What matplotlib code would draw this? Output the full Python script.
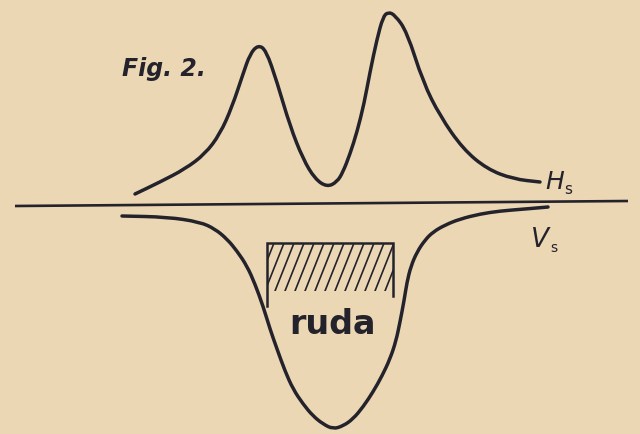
import numpy as np
import matplotlib.pyplot as plt
from matplotlib.patches import Rectangle, PathPatch
from matplotlib.path import Path

# Horizontal magnetic component Hs (x, height above the plate; y grows downward)
hs_x = [135, 160, 185, 205, 220, 232, 243, 250, 258, 266, 277, 290, 303, 315,
        327, 337, 343, 350, 357, 364, 370, 377, 383, 388, 395, 407, 423, 440,
        463, 487, 513, 540]
hs_y = [195, 183, 170, 155, 135, 108, 75, 55, 46, 51, 83, 127, 160, 180,
        188, 183, 173, 155, 133, 105, 73, 40, 18, 13, 16, 33, 83, 117,
        150, 170, 180, 183]

# Vertical component Vs
vs_x = [122, 167, 200, 215, 227, 237, 247, 255, 263, 270, 277, 285, 293, 303,
        313, 323, 333, 343, 353, 363, 373, 382, 390, 396, 400, 404, 407, 411,
        417, 425, 433, 445, 460, 480, 500, 525, 548]
vs_y = [217, 218, 223, 230, 240, 252, 267, 285, 307, 330, 350, 372, 390, 405,
        417, 425, 430, 427, 420, 408, 393, 377, 360, 342, 323, 302, 283, 267,
        253, 241, 233, 226, 220, 215, 212, 210, 208]

# Reference line and ore body outline
base_x = [15, 628]
base_y = [207, 202]
ore_left, ore_right, ore_top = 267, 393, 244
ore_left_bottom, ore_right_bottom = 307, 297
hatch_bottom = 292

paper = '#ecd7b5'
ink = '#24232c'


def smooth_path(xs, ys):
    """Quadratic-Bezier path using the given points as control points."""
    pts = np.column_stack([xs, ys]).astype(float)
    mids = (pts[:-1] + pts[1:]) / 2
    verts = [pts[0], mids[0]]
    codes = [Path.MOVETO, Path.LINETO]
    for i in range(1, len(pts) - 1):
        verts += [pts[i], mids[i]]
        codes += [Path.CURVE3, Path.CURVE3]
    verts.append(pts[-1])
    codes.append(Path.LINETO)
    return Path(verts, codes)


fig = plt.figure(figsize=(6.4, 4.35), dpi=100)
fig.patch.set_facecolor(paper)
ax = fig.add_axes([0, 0, 1, 1])
ax.set_facecolor(paper)
ax.set_xlim(0, 640)
ax.set_ylim(435, 0)
ax.axis('off')

ax.plot(base_x, base_y, color=ink, lw=1.9, solid_capstyle='butt')
for xs, ys in ((hs_x, hs_y), (vs_x, vs_y)):
    ax.add_patch(PathPatch(smooth_path(xs, ys), facecolor='none',
                           edgecolor=ink, lw=2.5, capstyle='round',
                           joinstyle='round'))

# Ore body: open-bottom frame with steep diagonal hatching
ax.plot([ore_left, ore_left, ore_right, ore_right],
        [ore_left_bottom, ore_top, ore_top, ore_right_bottom],
        color=ink, lw=1.8, solid_joinstyle='miter')
clip = Rectangle((ore_left, ore_top), ore_right - ore_left,
                 hatch_bottom - ore_top, transform=ax.transData)
dx = 19
for x0 in np.arange(ore_left - 12, ore_right + 4, 10):
    ln, = ax.plot([x0, x0 + dx], [hatch_bottom, ore_top], color=ink, lw=1.2)
    ln.set_clip_path(clip)

ax.text(122, 76, 'Fig. 2.', color=ink, fontsize=17, fontstyle='italic',
        fontweight='bold', family='DejaVu Sans', ha='left', va='baseline')
ax.text(545, 189, 'H', color=ink, fontsize=18, fontstyle='italic',
        family='DejaVu Sans', ha='left', va='baseline')
ax.text(564, 194, 's', color=ink, fontsize=11, family='DejaVu Sans',
        ha='left', va='baseline')
ax.text(531, 247, 'V', color=ink, fontsize=19, fontstyle='italic',
        family='DejaVu Sans', ha='left', va='baseline')
ax.text(550, 252, 's', color=ink, fontsize=10, family='DejaVu Sans',
        ha='left', va='baseline')
ax.text(289, 334, 'ruda', color=ink, fontsize=24, fontweight='bold',
        family='DejaVu Sans', ha='left', va='baseline')

fig.savefig('out.png', dpi=100, facecolor=paper)
